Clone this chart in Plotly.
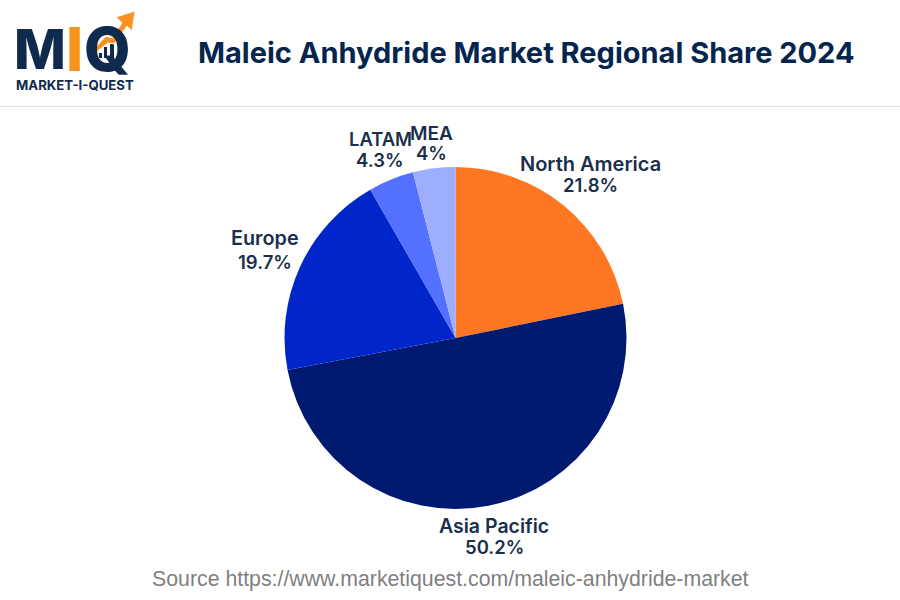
import plotly.graph_objects as go

regions = ["North America", "Asia Pacific", "Europe", "LATAM", "MEA"]
shares = [21.8, 50.2, 19.7, 4.3, 4]
share_labels = ["21.8%", "50.2%", "19.7%", "4.3%", "4%"]
slice_colors = ["#FF7722", "#001A72", "#0025C8", "#5470FF", "#9DAEFF"]

# label x, name y, share y, name size, same order as regions
label_pos = [(590, 164, 185, 20), (494, 526, 547, 19.5), (265, 238, 262, 19.8),
             (380, 139, 160, 18.4), (431, 133, 153, 19)]

W, H = 900, 600
NAVY = "#0F2A4D"
ORANGE = "#F7931E"


def px(x):
    return x / W


def py(y):
    return 1 - y / H


def add_text(fig, x, y, text, size, color=NAVY, family="Inter", weight=700):
    fig.add_annotation(
        x=px(x), y=py(y), xref="paper", yref="paper", text=text, showarrow=False,
        xanchor="center", yanchor="middle",
        font=dict(family=family, size=size, color=color, weight=weight),
    )


def add_poly(fig, points, color, outline=None):
    path = "M " + " L ".join(f"{px(x)} {py(y)}" for x, y in points) + " Z"
    fig.add_shape(type="path", path=path, xref="paper", yref="paper", fillcolor=color,
                  line=dict(color=outline, width=0.8) if outline else dict(width=0))


fig = go.Figure(
    go.Pie(
        labels=regions,
        values=shares,
        sort=False,
        direction="clockwise",
        rotation=0,
        textinfo="none",
        hoverinfo="label+percent",
        marker=dict(colors=slice_colors, line=dict(width=0)),
        domain=dict(x=[px(455.5 - 171), px(455.5 + 171)], y=[py(338 + 171), py(338 - 171)]),
    )
)

fig.update_layout(
    width=W,
    height=H,
    margin=dict(l=0, r=0, t=0, b=0),
    paper_bgcolor="white",
    showlegend=False,
)

for name, share, (x, y1, y2, size) in zip(regions, share_labels, label_pos):
    add_text(fig, x, y1, name, size, color="#1B2F4B", weight=600)
    add_text(fig, x, y2, share, 18.5, color="#1B2F4B", weight=600)

add_text(fig, 526, 52, "Maleic Anhydride Market Regional Share 2024", 29, color="#04254D")
add_text(fig, 450, 579, "Source https://www.marketiquest.com/maleic-anhydride-market", 21.3,
         color="#7F7F7F", family="Liberation Sans", weight=400)

# header rule
fig.add_shape(type="line", xref="paper", yref="paper", x0=0, x1=1, y0=py(106.5), y1=py(106.5),
              line=dict(color="#E2E2E2", width=1))

# logo
add_text(fig, 39.5, 49, "M", 55, weight=800)
add_text(fig, 74, 49, "I", 60, color=ORANGE, weight=800)
add_text(fig, 107, 49, "Q", 60, weight=800)
add_text(fig, 75, 84.5, "MARKET-I-QUEST", 13.2, weight=700)
add_poly(fig, [(99, 53), (102, 53), (102, 58), (99, 58)], NAVY)
add_poly(fig, [(104, 47), (107, 47), (107, 58), (104, 58)], NAVY)
add_poly(fig, [(110, 44), (114, 44), (114, 58), (110, 58)], NAVY)
add_poly(fig, [(93, 50), (106, 36), (112, 38), (122, 23), (116, 17), (135, 11), (132, 31),
               (127, 26), (114, 44), (108, 43), (95, 53)], ORANGE, outline="white")

# page body has a default margin that would shift the fixed-size plot
fig.write_html("out.html", config=dict(displayModeBar=False),
               post_script="document.body.style.margin='0';")
